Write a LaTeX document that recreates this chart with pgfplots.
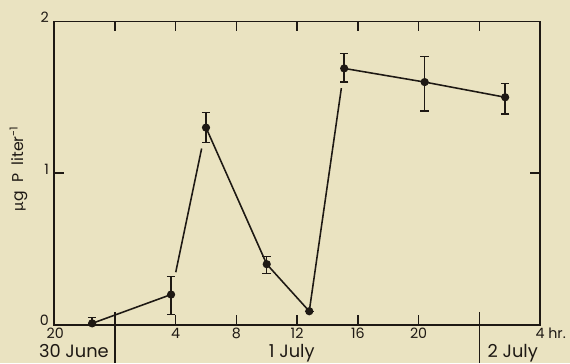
\documentclass[border=0pt]{standalone}
\usepackage{fontspec}
\setmainfont{Poppins}
\newfontfamily\greekfont{Lato}
\usepackage{pgfplots}
\pgfplotsset{compat=1.18}
\usetikzlibrary{calc,backgrounds}
\definecolor{bg}{RGB}{234,227,193}
\definecolor{ink}{RGB}{30,25,20}
\begin{document}
\begin{tikzpicture}
\begin{axis}[
  name=ax,
  scale only axis,
  width=341pt, height=213pt,
  xmin=-4, xmax=28, ymin=0, ymax=2,
  axis line style={ink, line width=1.2pt},
  tick style={ink, line width=1pt},
  major tick length=7pt,
  tick align=inside,
  xtick={-4,4,8,12,16,20,28},
  xticklabels={\hspace*{1.5pt}20,4,8,12,16,20,{4\rlap{ hr.}}},
  extra x ticks={0,24},
  extra x tick labels={},
  ytick={0,1,2},
  yticklabels={0,1,2},
  /pgf/number format/assume math mode=true,
  tick label style={font=\fontsize{10}{12}\selectfont, text=ink, inner sep=0.5pt},
  xticklabel style={yshift=-1.5pt},
  yticklabel style={xshift=-3pt, yshift=3pt},
  clip=false,
  every axis plot/.append style={ink, line width=1.1pt},
]
% connecting lines
\addplot[mark=none] coordinates {(-1.5,0.01) (3.7,0.20)};
\addplot[mark=none, shorten <=16pt, shorten >=15pt] coordinates {(3.7,0.20) (6.0,1.30)};
\addplot[mark=none] coordinates {(6.0,1.30) (10.0,0.40) (12.8,0.09)};
\addplot[mark=none, shorten >=14pt] coordinates {(12.8,0.09) (15.1,1.69)};
\addplot[mark=none] coordinates {(15.1,1.69) (20.4,1.60) (25.7,1.50)};
% points with error bars
\addplot[only marks, mark=*, mark size=2.3pt, mark options={fill=ink, draw=ink},
  error bars/.cd, y dir=both, y explicit,
  error bar style={line width=1pt, ink},
  error mark options={rotate=90, mark size=3pt, line width=1pt, ink}]
  table[x=x, y=y, y error plus=ep, y error minus=em] {
x y ep em
-1.5 0.01 0.04 0.01
3.7 0.20 0.12 0.13
6.0 1.30 0.10 0.10
10.0 0.40 0.05 0.06
12.8 0.09 0.0 0.0
15.1 1.69 0.10 0.09
20.4 1.60 0.17 0.19
25.7 1.50 0.09 0.11
};
% midnight dividers
\draw[ink, line width=1pt] (axis cs:0,0.085) -- ([yshift=-27pt]axis cs:0,0);
\draw[ink, line width=1pt] (axis cs:24,0.085) -- ([yshift=-27pt]axis cs:24,0);
% date labels
\node[ink, font=\fontsize{12.5}{14}\selectfont, anchor=base] at ([yshift=-23pt]axis cs:-2.7,0) {30 June};
\node[ink, font=\fontsize{12.5}{14}\selectfont, anchor=base] at ([yshift=-23pt]axis cs:11.65,0) {1 July};
\node[ink, font=\fontsize{12.5}{14}\selectfont, anchor=base] at ([yshift=-23pt]axis cs:26.2,0) {2 July};
% y label
\node[ink, rotate=90, font=\fontsize{11}{13}\selectfont] at ([xshift=-25pt]axis cs:-4,1.03) {{\greekfont μ}g\ \ P\ \ liter\textsuperscript{-1}};
\end{axis}
\pgfresetboundingbox
\path[use as bounding box] ($(ax.south west)+(-38pt,-27pt)$) rectangle ($(ax.north east)+(21pt,15pt)$);
\begin{pgfonlayer}{background}
\fill[bg] ($(ax.south west)+(-38pt,-27pt)$) rectangle ($(ax.north east)+(21pt,15pt)$);
\end{pgfonlayer}
\end{tikzpicture}
\end{document}
